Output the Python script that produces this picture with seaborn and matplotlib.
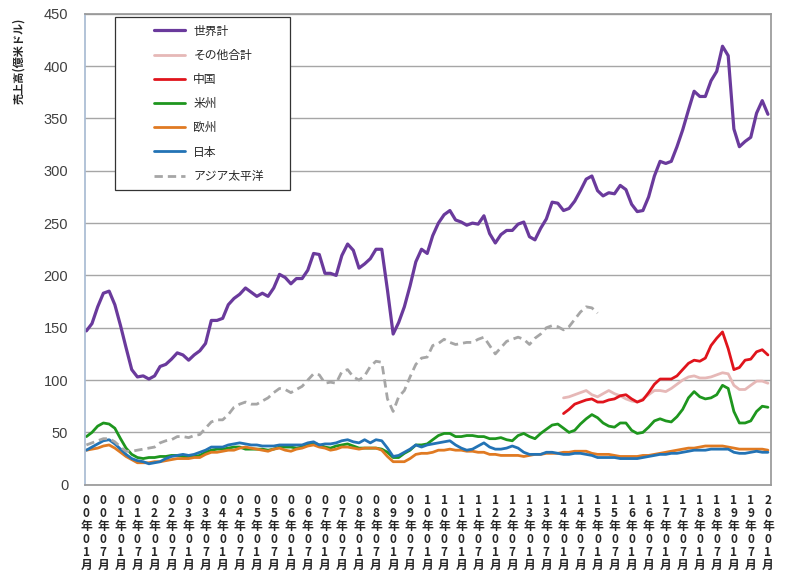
import numpy as np
import pandas as pd
import matplotlib
matplotlib.use('Agg')
import matplotlib.pyplot as plt
import seaborn as sns

# bimonthly samples, Jan 2000 .. Jan 2020 (億米ドル)
dates = pd.date_range('2000-01-01', '2020-01-01', freq='2MS')

world = [147, 154, 170, 183, 185, 172,
         152, 131, 110, 103, 104, 101,
         104, 113, 115, 120, 126, 124,
         119, 124, 128, 135, 157, 157,
         159, 172, 178, 182, 188, 184,
         180, 183, 180, 188, 201, 198,
         192, 197, 197, 205, 221, 220,
         202, 202, 200, 219, 230, 224,
         207, 211, 216, 225, 225, 186,
         144, 155, 170, 190, 213, 225,
         221, 238, 250, 258, 262, 253,
         251, 248, 250, 249, 257, 240,
         231, 239, 243, 243, 249, 251,
         237, 234, 245, 254, 270, 269,
         262, 264, 271, 281, 292, 295,
         281, 276, 279, 278, 286, 282,
         268, 261, 262, 275, 295, 309,
         307, 309, 323, 339, 358, 376,
         371, 371, 386, 395, 419, 410,
         340, 323, 328, 332, 355, 367,
         354]

americas = [46, 50, 56, 59, 58, 54,
            44, 35, 29, 26, 25, 26,
            26, 27, 27, 28, 28, 27,
            26, 27, 28, 31, 33, 34,
            34, 35, 36, 36, 34, 34,
            34, 34, 33, 34, 36, 36,
            36, 35, 36, 38, 40, 38,
            36, 35, 37, 38, 39, 37,
            35, 35, 35, 35, 34, 31,
            26, 26, 30, 33, 38, 38,
            39, 43, 47, 49, 49, 46,
            46, 47, 47, 46, 46, 44,
            44, 45, 43, 42, 47, 49,
            46, 44, 49, 53, 57, 58,
            54, 50, 52, 58, 63, 67,
            64, 59, 56, 55, 59, 59,
            52, 49, 50, 55, 61, 63,
            61, 60, 65, 72, 83, 89,
            84, 82, 83, 86, 95, 92,
            70, 59, 59, 61, 70, 75,
            74]

japan = [33, 36, 39, 42, 43, 39,
         34, 29, 25, 23, 22, 20,
         21, 22, 25, 27, 28, 29,
         28, 29, 31, 33, 36, 36,
         36, 38, 39, 40, 39, 38,
         38, 37, 37, 37, 38, 38,
         38, 38, 38, 40, 41, 38,
         39, 39, 40, 42, 43, 41,
         40, 43, 40, 43, 42, 35,
         27, 28, 31, 34, 38, 36,
         38, 39, 40, 41, 42, 38,
         35, 33, 34, 37, 40, 36,
         34, 34, 35, 37, 35, 31,
         29, 29, 29, 31, 31, 30,
         29, 29, 30, 30, 29, 28,
         26, 26, 26, 26, 25, 25,
         25, 25, 26, 27, 28, 29,
         29, 30, 30, 31, 32, 33,
         33, 33, 34, 34, 34, 34,
         31, 30, 30, 31, 32, 31,
         31]

europe = [33, 34, 35, 37, 38, 35,
          31, 27, 24, 21, 21, 21,
          22, 22, 23, 24, 25, 25,
          25, 26, 26, 29, 31, 31,
          32, 33, 33, 35, 36, 35,
          34, 33, 32, 34, 35, 33,
          32, 34, 35, 37, 38, 36,
          35, 33, 34, 36, 36, 35,
          34, 35, 35, 35, 33, 27,
          22, 22, 22, 25, 29, 30,
          30, 31, 33, 33, 34, 33,
          33, 32, 32, 31, 31, 29,
          29, 28, 28, 28, 28, 27,
          28, 29, 29, 30, 30, 30,
          31, 31, 32, 32, 32, 30,
          29, 29, 29, 28, 27, 27,
          27, 27, 28, 28, 29, 30,
          31, 32, 33, 34, 35, 35,
          36, 37, 37, 37, 37, 36,
          35, 34, 34, 34, 34, 34,
          33]

# Asia-Pacific only up to Jan 2015
asia = [38, 40, 42, 44, 44, 41,
        36, 32, 32, 33, 34, 35,
        36, 40, 42, 43, 46, 46,
        45, 47, 48, 54, 60, 62,
        62, 67, 74, 77, 79, 77,
        77, 80, 83, 88, 92, 91,
        88, 91, 94, 100, 106, 105,
        97, 98, 97, 108, 110, 103,
        100, 104, 113, 118, 117, 82,
        70, 84, 90, 103, 115, 121,
        122, 133, 135, 139, 136, 134,
        135, 136, 136, 139, 141, 133,
        125, 131, 137, 139, 141, 139,
        134, 140, 144, 150, 152, 151,
        148, 151, 158, 165, 170, 169,
        164]

# China and "other" start Jan 2014
china = [68, 72, 77, 79, 81, 82,
         79, 79, 81, 82, 85, 86,
         82, 79, 81, 88, 96, 101,
         101, 101, 104, 110, 116, 119,
         118, 121, 133, 140, 146, 130,
         110, 112, 119, 120, 127, 129,
         124]

other = [83, 84, 86, 88, 90, 86,
         84, 87, 90, 87, 85, 82,
         80, 79, 82, 86, 90, 90,
         89, 92, 96, 100, 103, 104,
         102, 102, 103, 105, 107, 106,
         95, 91, 91, 95, 99, 99,
         97]

names = ['世界計', 'その他合計', '中国', '米州', '欧州', '日本', 'アジア太平洋']
colors = ['#6A3A9C', '#E6B8B7', '#E0141C', '#1E961E', '#E07A22', '#2373B5', '#A6A6A6']

df = pd.DataFrame({'date': dates, '世界計': world, '米州': americas,
                   '欧州': europe, '日本': japan})
df['アジア太平洋'] = pd.Series(asia + [None] * (len(dates) - len(asia)), dtype=float)
df['中国'] = pd.Series([None] * (len(dates) - len(china)) + china, dtype=float)
df['その他合計'] = pd.Series([None] * (len(dates) - len(other)) + other, dtype=float)

sns.set_theme(style='white')
plt.rcParams['font.family'] = ['Noto Sans CJK JP', 'DejaVu Sans']

fig = plt.figure(figsize=(8, 5.75), dpi=100)
ax = fig.add_axes([0.106, 0.157, 0.858, 0.819])

widths = [2.3, 2.0, 2.0, 2.0, 2.0, 2.0, 2.0]
for name, c, w in zip(names, colors, widths):
    sns.lineplot(data=df, x='date', y=name, ax=ax, color=c, lw=w, label=name)
ax.lines[-1].set_dashes([3, 1.8])

ax.set_ylim(0, 450)
ax.set_yticks(range(0, 451, 50))
ax.set_xlim(pd.Timestamp('1999-12-15'), pd.Timestamp('2020-02-05'))
ticks = pd.date_range('2000-01-01', '2020-01-01', freq='6MS')
ax.set_xticks(ticks)
ax.set_xticklabels(['\n'.join(f'{d.year % 100:02d}年{d.month:02d}月') for d in ticks],
                   fontsize=8.5, fontweight='bold', linespacing=1.0)
ax.tick_params(axis='x', length=4, color='#888888', pad=3)
ax.tick_params(axis='y', length=0, labelsize=10.5, labelcolor='#404040', pad=12)
for t in ax.get_yticklabels():
    t.set_fontfamily(['Liberation Sans', 'DejaVu Sans'])

ax.grid(axis='y', color='#A6A6A6', lw=1)
ax.set_axisbelow(True)
ax.set_xlabel('')
ax.set_ylabel('')
ax.spines['left'].set_color('#A9BBD3')
for s in ['bottom', 'right', 'top']:
    ax.spines[s].set_color('#999999')

fig.text(0.023, 0.97, '売上高(億米ドル)', rotation=90, va='top', ha='center',
         fontsize=8, fontweight='bold')

leg = ax.legend(loc='upper left', bbox_to_anchor=(0.0437, 0.2, 0.255, 0.7936),
                mode='expand', borderaxespad=0, fontsize=8.5,
                frameon=True, fancybox=False, edgecolor='#333333', framealpha=1,
                handlelength=5.3, handletextpad=0.7, labelspacing=0.95,
                borderpad=0.65)
leg.get_frame().set_linewidth(0.9)
# keep only the right half of each handle, like the original legend
for ln in leg.get_lines():
    xd = np.asarray(ln.get_xdata(), dtype=float)
    ln.set_xdata(np.linspace(xd[0] + 0.5 * (xd[-1] - xd[0]), xd[-1], len(xd)))

fig.savefig('out.png', dpi=100)
